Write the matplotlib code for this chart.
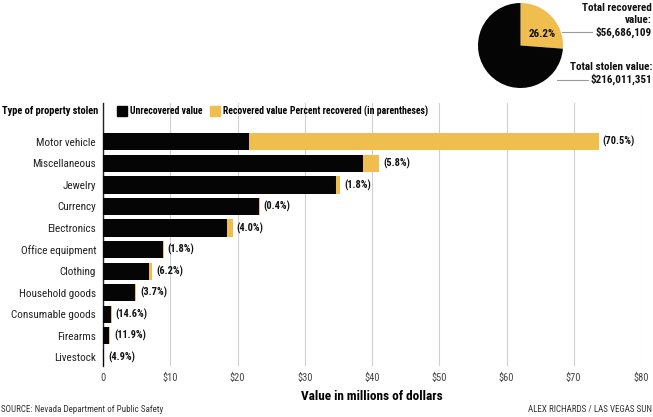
import matplotlib

matplotlib.use("Agg")
import matplotlib.pyplot as plt
from matplotlib.patches import Rectangle
from matplotlib.lines import Line2D

plt.rcParams["font.family"] = ["Roboto Condensed", "DejaVu Sans"]

CATEGORIES = ["Motor vehicle", "Miscellaneous", "Jewelry", "Currency", "Electronics",
              "Office equipment", "Clothing", "Household goods", "Consumable goods",
              "Firearms", "Livestock"]
UNRECOVERED = [21.7, 38.7, 34.6, 23.2, 18.5, 8.85, 6.85, 4.75, 1.12, 0.9, 0.14]
RECOVERED = [52.0, 2.4, 0.63, 0.1, 0.77, 0.16, 0.45, 0.18, 0.19, 0.12, 0.01]
PCT_LABELS = ["70.5%", "5.8%", "1.8%", "0.4%", "4.0%", "1.8%", "6.2%", "3.7%",
              "14.6%", "11.9%", "4.9%"]
XTICKS = [0, 10, 20, 30, 40, 50, 60, 70, 80]
XTICK_LABELS = ["0", "$10", "$20", "$30", "$40", "$50", "$60", "$70", "$80"]
PIE_SHARES = [26.2, 73.8]  # recovered, unrecovered

BLACK = "#050505"
GOLD = "#f0bd4f"
GRID = "#cfcfcf"
W, H = 653, 417


def fx(px):
    return px / W


def fy(py):
    return 1 - py / H


def main():
    fig = plt.figure(figsize=(W / 100, H / 100), dpi=100)
    ax = fig.add_axes([fx(103), fy(366), fx(641) - fx(103), fy(103) - fy(366)])
    ys = list(range(len(CATEGORIES)))
    ax.barh(ys, UNRECOVERED, height=0.8, color=BLACK, zorder=3)
    ax.barh(ys, RECOVERED, left=UNRECOVERED, height=0.8, color=GOLD, zorder=3)
    for y, u, r, lab in zip(ys, UNRECOVERED, RECOVERED, PCT_LABELS):
        ax.text(u + r + 0.6, y, f"({lab})", ha="left", va="center", fontsize=7.5,
                fontweight="bold", color="#111111")
    ax.set_xlim(0, 80)
    ax.set_ylim(10.4, -1.8)
    ax.set_yticks(ys)
    ax.set_yticklabels(CATEGORIES, fontsize=8, color="#222222")
    ax.set_xticks(XTICKS)
    ax.set_xticklabels(XTICK_LABELS, fontsize=7.5, color="#444444")
    ax.tick_params(axis="both", length=0, pad=5)
    ax.tick_params(axis="y", pad=5)
    ax.grid(True, axis="x", color=GRID, lw=0.8, zorder=0)
    for s in ("top", "right", "bottom"):
        ax.spines[s].set_visible(False)
    ax.spines["left"].set_color("#222222")
    ax.spines["left"].set_linewidth(1.0)
    ax.set_xlabel("Value in millions of dollars", fontsize=9.5, fontweight="bold",
                  labelpad=5)

    # header row with legend
    fig.text(fx(2), fy(111), "Type of property stolen", fontsize=7.5, fontweight="bold",
             va="center", ha="left")
    fig.patches.append(Rectangle((fx(117), fy(116)), fx(10), fy(106) - fy(116),
                                 transform=fig.transFigure, color=BLACK))
    fig.text(fx(130), fy(111), "Unrecovered value", fontsize=7, fontweight="bold",
             va="center", ha="left")
    fig.patches.append(Rectangle((fx(210), fy(116)), fx(10), fy(106) - fy(116),
                                 transform=fig.transFigure, color=GOLD))
    fig.text(fx(223), fy(111), "Recovered value", fontsize=7, fontweight="bold",
             va="center", ha="left")
    fig.text(fx(290), fy(111), "Percent recovered (in parentheses)", fontsize=7,
             fontweight="bold", va="center", ha="left")

    # pie of totals
    pax = fig.add_axes([fx(478), fy(88), fx(85), fy(3) - fy(88)])
    pax.pie(PIE_SHARES, colors=[GOLD, BLACK], startangle=90, counterclock=False,
            wedgeprops=dict(linewidth=0))
    pax.set_xlim(-1, 1)
    pax.set_ylim(-1, 1)
    pax.set_aspect("equal")
    pax.text(0.5, 0.28, f"{PIE_SHARES[0]}%", ha="center", va="center", fontsize=8,
             fontweight="bold", color="#111111")
    fig.lines.append(Line2D([fx(562), fx(592)], [fy(32), fy(32)], transform=fig.transFigure,
                            color="#999999", lw=0.8))
    fig.lines.append(Line2D([fx(557), fx(588)], [fy(80), fy(80)], transform=fig.transFigure,
                            color="#999999", lw=0.8))
    for py, txt in [(8, "Total recovered"), (20, "value:"), (32, "$56,686,109"),
                    (67, "Total stolen value:"), (79, "$216,011,351")]:
        fig.text(fx(652), fy(py), txt, ha="right", va="center", fontsize=8,
                 fontweight="bold", color="#111111")

    # footer
    fig.text(fx(1), fy(409), "SOURCE: Nevada Department of Public Safety", fontsize=6.5,
             color="#333333", va="center", ha="left")
    fig.text(fx(652), fy(409), "ALEX RICHARDS / LAS VEGAS SUN", fontsize=6.5,
             color="#333333", va="center", ha="right")

    fig.savefig("out.png", dpi=100)


if __name__ == "__main__":
    main()
